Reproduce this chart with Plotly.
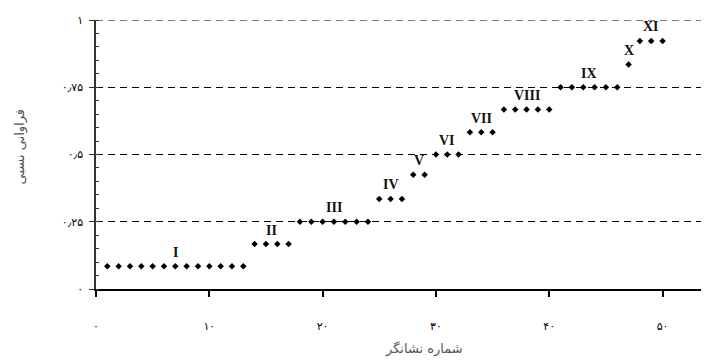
import plotly.graph_objects as go

# ---- data ----
group_labels = ["I", "II", "III", "IV", "V", "VI", "VII", "VIII", "IX", "X", "XI"]
group_markers = [
    [1, 2, 3, 4, 5, 6, 7, 8, 9, 10, 11, 12, 13],
    [14, 15, 16, 17],
    [18, 19, 20, 21, 22, 23, 24],
    [25, 26, 27],
    [28, 29],
    [30, 31, 32],
    [33, 34, 35],
    [36, 37, 38, 39, 40],
    [41, 42, 43, 44, 45, 46],
    [47],
    [48, 49, 50],
]
group_freq = [0.085, 0.167, 0.25, 0.335, 0.425, 0.5, 0.583, 0.667, 0.75, 0.835, 0.922]

x_tick_vals = [0, 10, 20, 30, 40, 50, 60]
x_tick_text = ["۰", "۱۰", "۲۰", "۳۰", "۴۰", "۵۰", "۶۰"]
y_tick_vals = [0, 0.25, 0.5, 0.75, 1]
y_tick_text = ["۰", "۰٫۲۵", "۰٫۵", "۰٫۷۵", "۱"]

x_title = "شماره نشانگر"
y_title = "فراوانی نسبی"

# ---- build points ----
xs, ys = [], []
for mk, f in zip(group_markers, group_freq):
    for m in mk:
        xs.append(m)
        ys.append(f)

fig = go.Figure()
fig.add_trace(go.Scatter(
    x=xs, y=ys, mode="markers",
    marker=dict(symbol="diamond", size=5, color="black"),
    hoverinfo="skip", showlegend=False,
))

for lab, mk, f in zip(group_labels, group_markers, group_freq):
    fig.add_annotation(
        x=sum(mk) / len(mk), y=f, text="<b>" + lab + "</b>", showarrow=False,
        yanchor="middle", yshift=14,
        font=dict(family="Liberation Serif", size=14, color="#111111"),
    )

# dashed line at the top tick (gridline hidden at the range edge)
fig.add_shape(
    type="line", xref="paper", yref="y", x0=0, x1=1,
    y0=y_tick_vals[-1], y1=y_tick_vals[-1],
    line=dict(color="black", width=1.2, dash="7px,5px"), layer="below",
)

fig.add_annotation(
    xref="paper", yref="paper", x=0.535, y=-0.223, text=x_title,
    showarrow=False, xanchor="center", yanchor="middle",
    font=dict(family="DejaVu Sans", size=13, color="#555555"),
)
fig.add_annotation(
    xref="paper", yref="paper", x=-0.124, y=0.53, text=y_title,
    showarrow=False, textangle=-90, xanchor="center", yanchor="middle",
    font=dict(family="DejaVu Sans", size=13, color="#555555"),
)

# page body has an 8px margin, so the figure is sized to fill the window
fig.update_layout(
    width=701, height=352,
    margin=dict(l=88, r=0, t=12, b=71, autoexpand=False),
    paper_bgcolor="white", plot_bgcolor="white",
    xaxis=dict(
        range=[0, 54.1], tickvals=x_tick_vals, ticktext=x_tick_text,
        showgrid=False, zeroline=False, automargin=False,
        showline=True, linecolor="black", linewidth=1.5,
        ticks="outside", ticklen=6, tickcolor="black", tickwidth=1.5,
        ticklabelstandoff=20,
        tickfont=dict(family="DejaVu Sans", size=11, color="black"),
    ),
    yaxis=dict(
        range=[0, 1], tickvals=y_tick_vals, ticktext=y_tick_text,
        showgrid=True, gridcolor="black", gridwidth=1.2, griddash="7px,5px",
        zeroline=False, automargin=False,
        showline=True, linecolor="#333333", linewidth=1.5,
        ticks="outside", ticklen=5, tickcolor="#333333", tickwidth=1.2,
        ticklabelstandoff=4,
        tickfont=dict(family="DejaVu Sans", size=11, color="black"),
        minor=dict(dtick=0.05, ticks="inside", ticklen=3, tickcolor="#333333",
                   showgrid=False),
    ),
)

fig.write_html("out.html")
